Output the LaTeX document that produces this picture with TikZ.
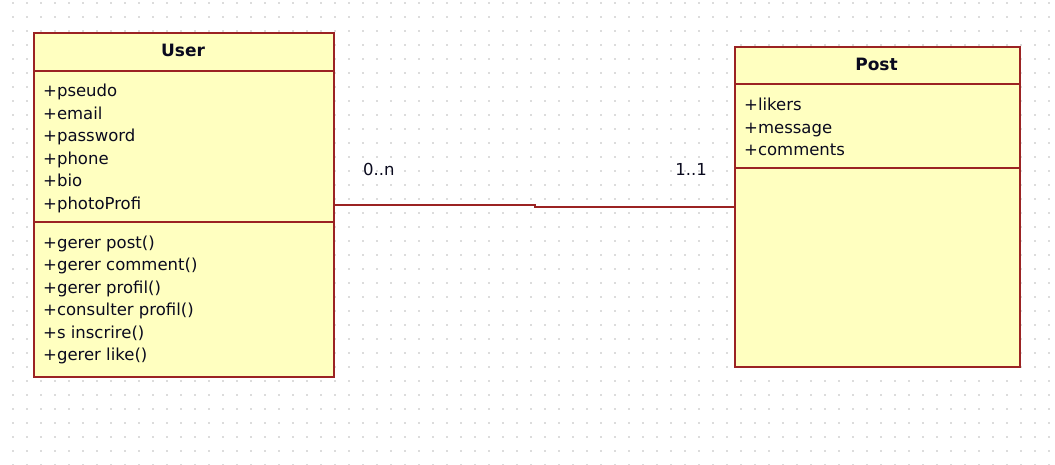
\documentclass[tikz,border=0pt]{standalone}
\usepackage{fontspec}
\setmainfont{DejaVu Sans}
\definecolor{boxfill}{RGB}{255,255,192}
\definecolor{boxline}{RGB}{155,35,35}
\definecolor{txt}{RGB}{10,10,30}
\definecolor{griddot}{RGB}{185,185,185}
\begin{document}
\begin{tikzpicture}[x=1pt,y=-1pt,
  classbox/.style={draw=boxline, fill=boxfill, line width=1.8pt, inner sep=0pt, anchor=north west},
  sep/.style={draw=boxline, line width=1.5pt},
  title/.style={font=\fontsize{17}{20}\selectfont\bfseries, text=txt, inner sep=0pt, anchor=base},
  member/.style={font=\fontsize{16.5}{20}\selectfont, text=txt, anchor=base west, inner sep=0pt},
  mult/.style={font=\fontsize{16.5}{20}\selectfont, text=txt, inner sep=0pt},
  assoc/.style={draw=boxline, line width=1.5pt},
]
\useasboundingbox (0,0) rectangle (1055,465);
\fill[white] (0,0) rectangle (1055,465);
\foreach \i in {0,...,74} \foreach \j in {0,...,33} \fill[griddot] (13+14*\i, 3+14*\j) circle (0.9pt);

% User class
\node[classbox, minimum width=300pt, minimum height=344pt] (User) at (33,32) {};
\coordinate (us1) at (0,71);
\coordinate (us2) at (0,222);
\draw[sep] (User.west |- us1) -- (User.east |- us1);
\draw[sep] (User.west |- us2) -- (User.east |- us2);
\node[title] (ut) at (183,57) {User};
\node[member] (ua1) at (43,97) {+pseudo};
\node[member] (ua2) at (43,119.5) {+email};
\node[member] (ua3) at (43,142) {+password};
\node[member] (ua4) at (43,164.5) {+phone};
\node[member] (ua5) at (43,187) {+bio};
\node[member] (ua6) at (43,209.5) {+photoProfi};
\node[member] (um1) at (43,248) {+gerer post()};
\node[member] (um2) at (43,270.5) {+gerer comment()};
\node[member] (um3) at (43,293) {+gerer profil()};
\node[member] (um4) at (43,315.5) {+consulter profil()};
\node[member] (um5) at (43,338) {+s inscrire()};
\node[member] (um6) at (43,360.5) {+gerer like()};

% Post class
\node[classbox, minimum width=285pt, minimum height=320pt] (Post) at (734,46) {};
\coordinate (ps1) at (0,84);
\coordinate (ps2) at (0,168);
\draw[sep] (Post.west |- ps1) -- (Post.east |- ps1);
\draw[sep] (Post.west |- ps2) -- (Post.east |- ps2);
\node[title] (pt) at (876.5,71) {Post};
\node[member] (pa1) at (744,111) {+likers};
\node[member] (pa2) at (744,133.5) {+message};
\node[member] (pa3) at (744,156) {+comments};

% association
\coordinate (mid) at (535,205);
\draw[assoc] (User.east) -- (User.east -| mid) -- (mid |- Post.west) -- (Post.west);
\node[mult, anchor=base west] (m1) at (363,176) {0..n};
\node[mult, anchor=base east] (m2) at (707,176) {1..1};
\end{tikzpicture}
\end{document}
